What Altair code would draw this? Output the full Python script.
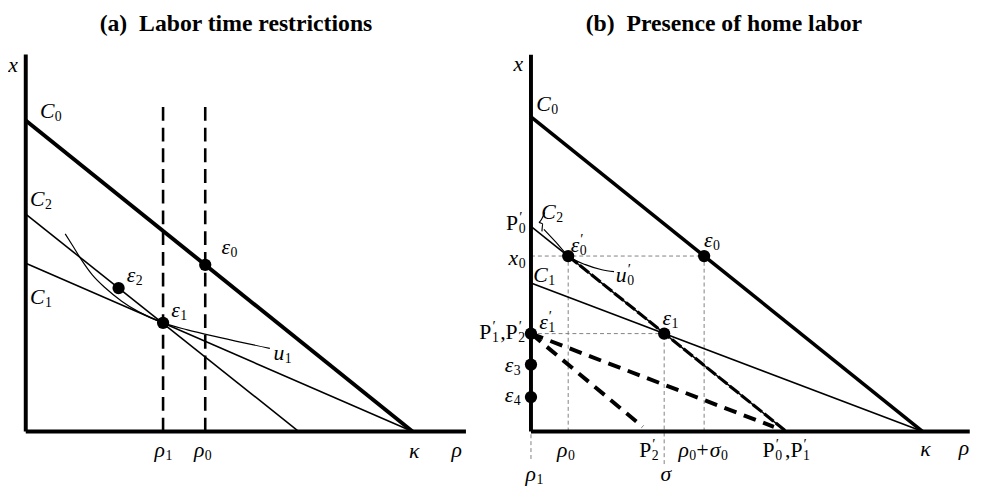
import altair as alt
import pandas as pd

# ---------------- Panel (a): Labor time restrictions (units: kappa = 10) ----------------
a_axis_x_end = 11.38
a_axis_y_end = 9.75
a_kappa = 10.0
a_C0 = 8.04
a_C2 = 5.62
a_C2_end = 7.06
a_C1 = 4.35
a_rho1 = 3.55
a_rho0 = 4.64
a_dash_top = 8.52
a_pts_x = [4.64, 3.55, 2.40]
a_pts_y = [4.31, 2.81, 3.71]
a_u1_x = [1.02, 1.21, 1.42, 1.72, 2.06, 2.48, 2.91, 3.55, 4.18, 5.03, 6.31]
a_u1_y = [5.11, 4.81, 4.47, 4.05, 3.71, 3.37, 3.10, 2.81, 2.63, 2.43, 2.15]
# labels: main glyph, prime, subscript, anchor x, baseline y, upright?
a_lab_main = ["x", "C", "C", "C", "ε", "ε", "ε", "u", "ρ", "ρ", "κ", "ρ"]
a_lab_prime = ["", "", "", "", "", "", "", "", "", "", "", ""]
a_lab_sub = ["", "0", "2", "1", "0", "2", "1", "1", "1", "0", "", ""]
a_lab_x = [-0.204, 0.740, 0.485, 0.485, 5.281, 2.832, 3.980, 6.684, 3.597, 4.617, 10.179, 11.276]
a_lab_y = [9.286, 8.112, 5.842, 3.291, 4.592, 3.878, 2.959, 1.837, -0.663, -0.663, -0.689, -0.663]
a_lab_up = [0] * 12
a_title = "(a)\u00a0 Labor time restrictions"
a_title_xy = [5.434, 10.357]

# ---------------- Panel (b): Presence of home labor (units: kappa = 10) ----------------
b_axis_x_end = 11.2
b_axis_y_end = 9.62
b_kappa = 10.0
b_C0 = 8.03
b_P0 = 5.24
b_P0_end = 6.52
b_C1 = 3.79
b_x0 = 4.48
b_rho0 = 0.95
b_rho0s0 = 4.42
b_sigma = 3.40
b_x1 = 2.50
b_P2_end = [2.85, 0.125]
b_P1_end = [6.20, 0.12]
b_sigma_low = -0.83
b_rho1_low = -0.70
b_pts_x = [4.42, 0.95, 3.40, 0.0, 0.0, 0.0]
b_pts_y = [4.48, 4.48, 2.50, 2.50, 1.71, 0.88]
b_u0_x = [0.33, 0.63, 0.96, 1.39, 1.81, 2.12]
b_u0_y = [5.16, 4.84, 4.48, 4.26, 4.13, 4.08]
b_hook_x = [0.35, 0.20, 0.30, 0.28]
b_hook_y = [5.59, 5.34, 5.31, 5.11]
b_lab_main = ["x", "C", "P", "C", "ε", "ε", "x", "u", "C", "ε", "ε", "ε", "ε",
              "P", ",P", "ρ", "P", "ρ", "+σ", "P", ",P", "κ", "ρ", "ρ", "σ"]
b_lab_prime = ["", "", "′", "", "′", "", "", "′", "", "′", "", "", "",
               "′", "′", "", "′", "", "", "′", "′", "", "", "", ""]
b_lab_sub = ["", "0", "0", "2", "0", "0", "0", "0", "1", "1", "1", "3", "4",
             "1", "2", "0", "2", "0", "0", "0", "1", "", "", "1", ""]
b_lab_x = [-0.202, 0.504, -0.327, 0.630, 1.234, 4.635, -0.327, 2.443, 0.428, 0.428, 3.577, -0.453, -0.453,
           -1.010, -0.340, 0.932, 3.073, 4.030, 4.836, 6.220, 6.930, 10.202, 11.184, 0.126, 3.577]
b_lab_y = [9.194, 8.186, 5.139, 5.416, 4.584, 4.710, 4.257, 3.829, 3.829, 2.620, 2.720, 1.511, 0.756,
           2.368, 2.368, -0.655, -0.655, -0.655, -0.655, -0.655, -0.655, -0.630, -0.605, -1.259, -1.259]
b_lab_up = [0, 0, 1, 0, 0, 0, 0, 0, 0, 0, 0, 0, 0,
            1, 1, 0, 1, 0, 0, 1, 1, 0, 0, 0, 0]
b_title = "(b)\u00a0 Presence of home labor"
b_title_xy = [4.924, 10.227]

# panel frames (domains chosen so the panels sit side by side)
A_W, B_W, H = 480, 490, 475
a_xdom = [-0.459, 11.786]
a_ydom = [-1.301, 10.816]
b_xdom = [-1.259, 11.083]
b_ydom = [-1.285, 10.680]

SERIF = "Liberation Serif"


def segs(items):
    rows = []
    for sid, xs, ys in items:
        for i, (xv, yv) in enumerate(zip(xs, ys)):
            rows.append({"id": sid, "o": i, "x": xv, "y": yv})
    return pd.DataFrame(rows)


def panel(xdom, ydom, width, lines, points, labs, title):
    xs = alt.Scale(domain=xdom, nice=False, zero=False)
    ys = alt.Scale(domain=ydom, nice=False, zero=False)
    X = alt.X("x:Q", scale=xs, axis=None)
    Y = alt.Y("y:Q", scale=ys, axis=None)
    out = []
    for df, mk in lines:
        mk = dict(mk)
        mk.setdefault("color", "black")
        out.append(alt.Chart(df).mark_line(strokeCap="butt", **mk).encode(
            x=X, y=Y, detail="id:N", order="o:Q"))
    out.append(alt.Chart(points).mark_circle(color="black", opacity=1, size=155).encode(x=X, y=Y))
    base = alt.Chart(labs)
    out.append(base.transform_filter("datum.up == 0").mark_text(
        font=SERIF, fontStyle="italic", fontSize=22, align="right", baseline="alphabetic",
        color="black").encode(x=X, y=Y, text="main:N"))
    out.append(base.transform_filter("datum.up == 1").mark_text(
        font=SERIF, fontSize=22, align="right", baseline="alphabetic",
        color="black").encode(x=X, y=Y, text="main:N"))
    out.append(base.mark_text(
        font=SERIF, fontSize=14, align="left", baseline="alphabetic", dx=0.5, dy=3,
        color="black").encode(x=X, y=Y, text="sub:N"))
    out.append(base.mark_text(
        font=SERIF, fontSize=15, align="left", baseline="alphabetic", dx=1, dy=-8,
        color="black").encode(x=X, y=Y, text="prime:N"))
    out.append(alt.Chart(title).mark_text(
        font=SERIF, fontWeight="bold", fontSize=24, align="center", baseline="alphabetic",
        color="black").encode(x=X, y=Y, text="t:N"))
    return alt.layer(*out).properties(width=width, height=H)


def labels(main, prime, sub, xs, ys, up):
    return pd.DataFrame({"main": main, "prime": prime, "sub": sub, "x": xs, "y": ys, "up": up})


# ---- panel (a)
a_thick = segs([
    ("ax", [0, 0], [a_axis_y_end, 0]),
    ("ay", [0, a_axis_x_end], [0, 0]),
    ("C0", [0, a_kappa], [a_C0, 0]),
])
a_thin = segs([
    ("C2", [0, a_C2_end], [a_C2, 0]),
    ("C1", [0, a_kappa], [a_C1, 0]),
])
a_dash = segs([
    ("r1", [a_rho1, a_rho1], [0, a_dash_top]),
    ("r0", [a_rho0, a_rho0], [0, a_dash_top]),
])
a_curve = segs([("u1", a_u1_x, a_u1_y)])

panel_a = panel(
    a_xdom, a_ydom, A_W,
    [
        (a_thin, {"strokeWidth": 1.6}),
        (a_curve, {"strokeWidth": 1.2, "interpolate": "monotone"}),
        (a_dash, {"strokeWidth": 2.6, "strokeDash": [14, 7]}),
        (a_thick, {"strokeWidth": 4}),
    ],
    pd.DataFrame({"x": a_pts_x, "y": a_pts_y}),
    labels(a_lab_main, a_lab_prime, a_lab_sub, a_lab_x, a_lab_y, a_lab_up),
    pd.DataFrame({"t": [a_title], "x": [a_title_xy[0]], "y": [a_title_xy[1]]}),
)

# ---- panel (b)
b_thick = segs([
    ("ax", [0, 0], [b_axis_y_end, 0]),
    ("ay", [0, b_axis_x_end], [0, 0]),
])
b_c0 = segs([("C0", [0, b_kappa], [b_C0, 0])])
b_thin = segs([
    ("P0", [0, b_P0_end], [b_P0, 0]),
    ("C1", [0, b_kappa], [b_C1, 0]),
])
b_grey = segs([
    ("h1", [0, b_rho0s0], [b_x0, b_x0]),
    ("h2", [0, b_sigma], [b_x1, b_x1]),
    ("v1", [b_rho0, b_rho0], [0, b_x0]),
    ("v2", [b_rho0s0, b_rho0s0], [0, b_x0]),
    ("v3", [b_sigma, b_sigma], [b_sigma_low, b_x1]),
    ("v4", [0, 0], [b_rho1_low, 0]),
])
b_bigdash = segs([
    ("d1", [0, b_P2_end[0]], [b_x1, b_P2_end[1]]),
    ("d2", [0, b_P1_end[0]], [b_x1, b_P1_end[1]]),
])
b_ondash = segs([("d3", [b_rho0, b_P0_end], [b_x0, 0])])
b_curve = segs([("u0", b_u0_x, b_u0_y), ("hook", b_hook_x, b_hook_y)])

panel_b = panel(
    b_xdom, b_ydom, B_W,
    [
        (b_grey, {"strokeWidth": 1, "strokeDash": [4, 3], "color": "#808080"}),
        (b_thin, {"strokeWidth": 1.6}),
        (b_curve, {"strokeWidth": 1.2, "interpolate": "monotone"}),
        (b_ondash, {"strokeWidth": 3.2, "strokeDash": [12, 3]}),
        (b_bigdash, {"strokeWidth": 4, "strokeDash": [13, 8]}),
        (b_c0, {"strokeWidth": 3.6}),
        (b_thick, {"strokeWidth": 4}),
    ],
    pd.DataFrame({"x": b_pts_x, "y": b_pts_y}),
    labels(b_lab_main, b_lab_prime, b_lab_sub, b_lab_x, b_lab_y, b_lab_up),
    pd.DataFrame({"t": [b_title], "x": [b_title_xy[0]], "y": [b_title_xy[1]]}),
)

chart = alt.hconcat(panel_a, panel_b, spacing=0, bounds="flush").properties(
    padding=0
).configure_view(stroke=None)

chart.save("out.html", embed_options={"renderer": "svg", "actions": False})
